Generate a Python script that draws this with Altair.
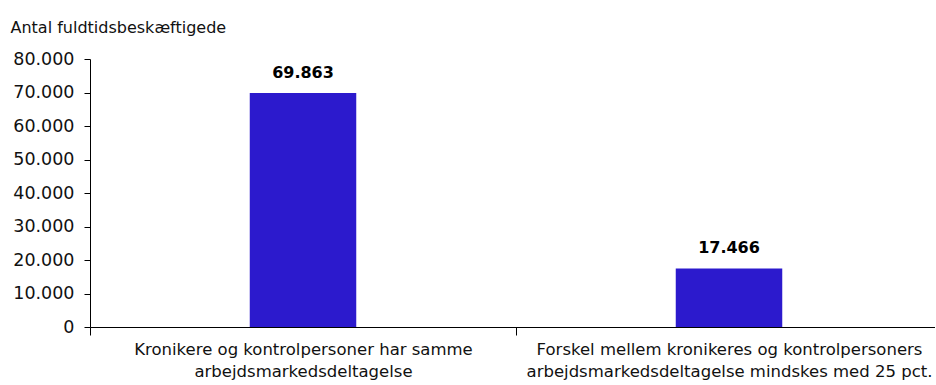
import altair as alt
import pandas as pd

# Scenarios (line breaks marked with "|") and full-time employment effect
scenarios = [
    "Kronikere og kontrolpersoner har samme|arbejdsmarkedsdeltagelse",
    "Forskel mellem kronikeres og kontrolpersoners|arbejdsmarkedsdeltagelse mindskes med 25 pct.",
]
employed = [69863, 17466]
value_labels = ["69.863", "17.466"]
y_ticks = [0, 10000, 20000, 30000, 40000, 50000, 60000, 70000, 80000]

df = pd.DataFrame({"scenario": scenarios, "employed": employed, "label": value_labels})

FONT = "DejaVu Sans"
BAR_COLOR = "#2C1ACD"

# The category axis runs a little past the right edge of the canvas
x_enc = alt.X(
    "scenario:N",
    sort=None,
    scale=alt.Scale(paddingInner=0, paddingOuter=0, range=[0, 852]),
    axis=alt.Axis(
        title=None,
        labelAngle=0,
        labelExpr="split(datum.label, '|')",
        labelLineHeight=22,
        labelFontSize=16.5,
        labelFont=FONT,
        labelColor="#111111",
        labelPadding=6,
        tickBand="extent",
        tickSize=8,
        tickColor="#000000",
        domainColor="#000000",
        labelLimit=500,
    ),
)

y_enc = alt.Y(
    "employed:Q",
    scale=alt.Scale(domain=[0, 80000], nice=False),
    axis=alt.Axis(
        values=y_ticks,
        labelExpr="replace(format(datum.value, ',d'), ',', '.')",
        labelOverlap=False,
        labelFontSize=17.5,
        labelFont=FONT,
        labelColor="#111111",
        labelPadding=10,
        tickSize=6,
        tickColor="#000000",
        domainColor="#000000",
        grid=False,
        title="Antal fuldtidsbeskæftigede",
        titleAngle=0,
        titleAlign="left",
        titleBaseline="alphabetic",
        titleX=-80,
        titleY=-27,
        titleFont=FONT,
        titleFontSize=16,
        titleFontWeight="normal",
        titleColor="#111111",
    ),
)

base = alt.Chart(df).encode(x=x_enc, y=y_enc)

bars = base.mark_bar(color=BAR_COLOR, width=alt.RelativeBandSize(0.25))

labels = base.mark_text(
    dy=-15, baseline="alphabetic", font=FONT, fontSize=16, fontWeight="bold", color="#000000"
).encode(text="label:N")

chart = (
    alt.layer(bars, labels)
    .properties(
        width=845,
        height=268,
        autosize=alt.AutoSizeParams(type="none"),
        padding={"left": 90, "top": 59, "right": 0, "bottom": 58},
    )
    .configure_view(stroke=None)
)

chart.save("out.html", embed_options={"renderer": "svg", "actions": False})
